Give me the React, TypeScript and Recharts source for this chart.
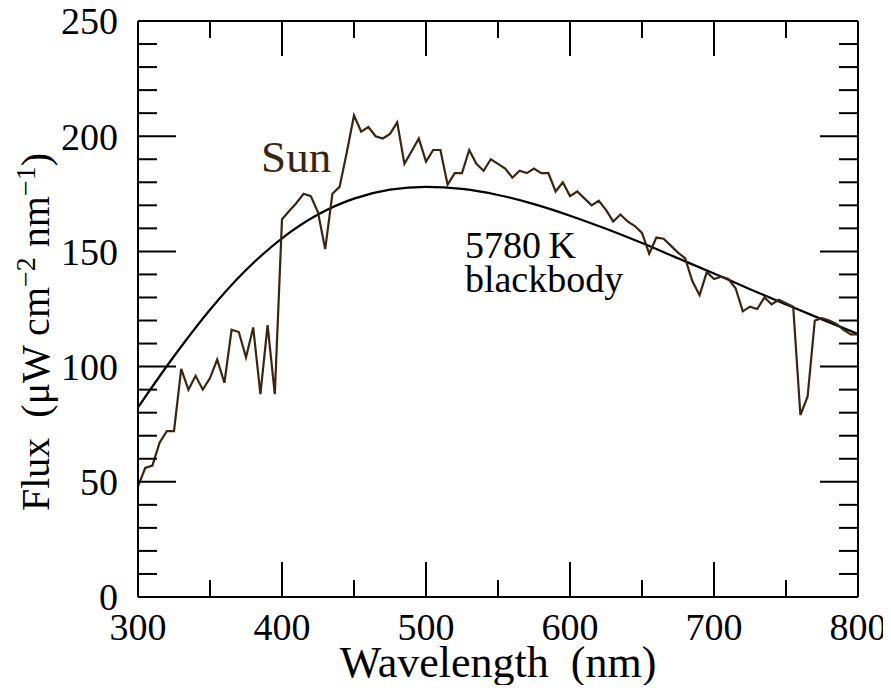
import React from "react";
import { LineChart, Line, XAxis, YAxis, ReferenceDot } from "recharts";

// observed solar spectrum, every 5 nm
const sunWavelength = [
  300, 305, 310, 315, 320, 325, 330, 335, 340, 345, 350, 355, 360, 365, 370, 375, 380, 385, 390, 395,
  400, 405, 410, 415, 420, 425, 430, 435, 440, 445, 450, 455, 460, 465, 470, 475, 480, 485, 490, 495,
  500, 505, 510, 515, 520, 525, 530, 535, 540, 545, 550, 555, 560, 565, 570, 575, 580, 585, 590, 595,
  600, 605, 610, 615, 620, 625, 630, 635, 640, 645, 650, 655, 660, 665, 670, 675, 680, 685, 690, 695,
  700, 705, 710, 715, 720, 725, 730, 735, 740, 745, 750, 755, 760, 765, 770, 775, 780, 785, 790, 795, 800,
];
const sunFlux = [
  48, 56, 57, 67, 72, 72, 99, 90, 96, 90, 95, 103, 93, 116, 115, 104, 117, 88, 118, 88,
  164, 167.5, 171, 175, 174, 167, 151, 175, 178, 193, 209, 202, 204, 200, 199, 201, 206, 188, 193.5, 199,
  189, 194, 194, 179, 184, 184, 194, 188, 185, 190, 188, 186, 182, 185, 184, 186, 184, 184, 176, 180,
  174, 176, 173, 170, 172, 168, 163, 166, 163, 161, 158, 149, 156, 155.5, 152.5, 149.5, 147, 137, 131, 141,
  138, 139, 138, 134, 124, 126, 125, 130, 127, 129, 127.5, 126, 79, 87, 120, 121, 120, 118.5, 116, 114, 114,
];

// 5780 K blackbody curve, read every 25 nm
const bbWavelength = [300, 325, 350, 375, 400, 425, 450, 475, 500, 525, 550, 575, 600, 625, 650, 675, 700, 725, 750, 775, 800];
const bbFlux = [82.3, 104.5, 124.7, 141.9, 155.7, 166, 172.9, 176.8, 178, 177.1, 174.5, 170.5, 165.5, 159.8, 153.6, 147, 140.4, 133.6, 127, 120.5, 114.2];

const yTicks = [0, 10, 20, 30, 40, 50, 60, 70, 80, 90, 100, 110, 120, 130, 140, 150, 160, 170, 180, 190, 200, 210, 220, 230, 240, 250];
const xTicks = [300, 350, 400, 450, 500, 550, 600, 650, 700, 750, 800];

const sunData = sunWavelength.map((nm, i) => ({ nm, flux: sunFlux[i] }));
const bbData = bbWavelength.map((nm, i) => ({ nm, flux: bbFlux[i] }));

const FONT = "Liberation Serif, Tinos, Times New Roman, Nimbus Roman, serif";
const SUN = "#3b2510";

const LeftTick = (props: any) => {
  const { x, y, payload } = props;
  const major = payload.value % 50 === 0;
  return (
    <g>
      <line x1={x} x2={x + (major ? 38 : 19)} y1={y} y2={y} stroke="#000" strokeWidth={2} />
      {major && (
        <text x={x - 20} y={y} dy="0.35em" textAnchor="end" style={{ fontFamily: FONT, fontSize: 38 }} fill="#000">
          {payload.value}
        </text>
      )}
    </g>
  );
};

const RightTick = (props: any) => {
  const { x, y, payload } = props;
  const major = payload.value % 50 === 0;
  return <line x1={x} x2={x - (major ? 38 : 19)} y1={y} y2={y} stroke="#000" strokeWidth={2} />;
};

const BottomTick = (props: any) => {
  const { x, y, payload } = props;
  const major = payload.value % 100 === 0;
  return (
    <g>
      <line x1={x} x2={x} y1={y} y2={y - (major ? 35 : 17)} stroke="#000" strokeWidth={2} />
      {major && (
        <text x={x} y={y + 43} textAnchor="middle" style={{ fontFamily: FONT, fontSize: 38 }} fill="#000">
          {payload.value}
        </text>
      )}
    </g>
  );
};

const TopTick = (props: any) => {
  const { x, y, payload } = props;
  const major = payload.value % 100 === 0;
  return <line x1={x} x2={x} y1={y} y2={y + (major ? 35 : 17)} stroke="#000" strokeWidth={2} />;
};

const YLabel = (props: any) => {
  const vb = props.viewBox;
  const cx = 35;
  const cy = vb.y + vb.height / 2 + 23;
  return (
    <text x={cx} y={cy} transform={`rotate(-90 ${cx} ${cy})`} textAnchor="middle" dy="0.35em" style={{ fontFamily: FONT, fontSize: 40 }} fill="#000">
      Flux{"\u00a0\u00a0"}(μW cm
      <tspan dy={-14} style={{ fontSize: 28 }}>−2</tspan>
      <tspan dy={14}> nm</tspan>
      <tspan dy={-14} style={{ fontSize: 28 }}>−1</tspan>
      <tspan dy={14}>)</tspan>
    </text>
  );
};

const XLabel = (props: any) => {
  const vb = props.viewBox;
  return (
    <text x={vb.x + vb.width / 2} y={vb.y + 80} textAnchor="middle" style={{ fontFamily: FONT, fontSize: 44 }} fill="#000">
      Wavelength{"\u00a0\u00a0"}(nm)
    </text>
  );
};

const TextAt = (text: string, size: number, color: string) => (props: any) => {
  const { x, y } = props.viewBox;
  return (
    <text x={x} y={y} style={{ fontFamily: FONT, fontSize: size }} fill={color}>
      {text}
    </text>
  );
};

export default function App() {
  return (
    <div style={{ width: 891, height: 693, margin: -8 }}>
      <LineChart width={891} height={693} margin={{ top: 0, right: 0, bottom: 0, left: 0 }}>
        <XAxis
          xAxisId="b"
          dataKey="nm"
          type="number"
          domain={[300, 800]}
          ticks={xTicks}
          interval={0}
          height={96}
          tickSize={0}
          tickMargin={0}
          tickLine={false}
          axisLine={{ stroke: "#000", strokeWidth: 2 }}
          tick={(p: any) => <BottomTick {...p} />}
          allowDataOverflow
          label={{ content: (p: any) => <XLabel {...p} /> }}
        />
        <XAxis
          xAxisId="t"
          orientation="top"
          dataKey="nm"
          type="number"
          domain={[300, 800]}
          ticks={xTicks}
          interval={0}
          height={21}
          tickSize={0}
          tickMargin={0}
          tickLine={false}
          axisLine={{ stroke: "#000", strokeWidth: 2 }}
          tick={(p: any) => <TopTick {...p} />}
          allowDataOverflow
        />
        <YAxis
          yAxisId="l"
          type="number"
          domain={[0, 250]}
          ticks={yTicks}
          interval={0}
          width={138}
          tickSize={0}
          tickMargin={0}
          tickLine={false}
          axisLine={{ stroke: "#000", strokeWidth: 2 }}
          tick={(p: any) => <LeftTick {...p} />}
          label={{ content: (p: any) => <YLabel {...p} /> }}
          allowDataOverflow
        />
        <YAxis
          yAxisId="r"
          orientation="right"
          type="number"
          domain={[0, 250]}
          ticks={yTicks}
          interval={0}
          width={33}
          tickSize={0}
          tickMargin={0}
          tickLine={false}
          axisLine={{ stroke: "#000", strokeWidth: 2 }}
          tick={(p: any) => <RightTick {...p} />}
          allowDataOverflow
        />
        <Line
          xAxisId="b"
          yAxisId="l"
          data={bbData}
          dataKey="flux"
          type="monotone"
          stroke="#000"
          strokeWidth={2.2}
          dot={false}
          isAnimationActive={false}
        />
        <Line
          xAxisId="b"
          yAxisId="l"
          data={sunData}
          dataKey="flux"
          type="linear"
          stroke={SUN}
          strokeWidth={2.2}
          dot={false}
          isAnimationActive={false}
        />
        <ReferenceDot xAxisId="b" yAxisId="l" x={385.5} y={184.5} r={0} label={{ content: TextAt("Sun", 45, SUN) }} />
        <ReferenceDot xAxisId="b" yAxisId="l" x={527} y={147} r={0} label={{ content: TextAt("5780\u2009K", 38, "#000") }} />
        <ReferenceDot xAxisId="b" yAxisId="l" x={527} y={132.4} r={0} label={{ content: TextAt("blackbody", 38, "#000") }} />
      </LineChart>
    </div>
  );
}
